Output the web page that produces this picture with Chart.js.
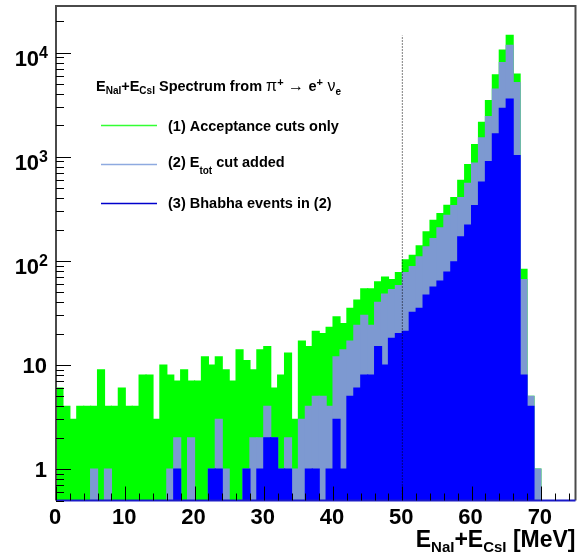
<!DOCTYPE html>
<html>
<head>
<meta charset="utf-8">
<script src="https://cdn.jsdelivr.net/npm/chart.js@4/dist/chart.umd.min.js"></script>
<style>
  html, body { margin: 0; padding: 0; background: #ffffff; }
  canvas { display: block; }
</style>
</head>
<body>
<canvas id="spectrum" width="582" height="552"></canvas>
<script>
// counts per 1 MeV bin, 0..75 MeV
const acceptanceCuts = [
    6, 4, 3, 4, 4, 4, 9, 4, 4, 6,
    4, 4, 8, 8, 3, 10, 8, 7, 9, 7,
    7, 12, 10, 12, 9, 7, 14, 11, 9, 14,
    15, 6, 8, 13, 3, 17, 15, 21, 20, 23,
    29, 25, 35, 42, 54, 54, 63, 70, 66, 77,
    102, 113, 139, 190, 245, 284, 341, 405, 592, 842,
    1306, 2140, 3450, 6120, 10550, 14660, 6210, 83, 5, 1,
    0, 0, 0, 0, 0
];
const etotCut = [
    0, 0, 0, 0, 0, 1, 0, 1, 0, 0,
    0, 0, 0, 0, 0, 0, 1, 2, 0, 2,
    0, 0, 1, 3, 1, 0, 0, 1, 2, 2,
    4, 2, 1, 2, 1, 3, 4, 5, 5, 4,
    12, 14, 17, 24, 30, 24, 40, 48, 53, 58,
    77, 88, 109, 136, 164, 207, 273, 340, 405, 556,
    870, 1515, 2425, 4470, 8020, 11750, 5160, 66, 5, 1,
    0, 0, 0, 0, 0
];
const bhabhaEvents = [
    0, 0, 0, 0, 0, 0, 0, 0, 0, 0,
    0, 0, 0, 0, 0, 0, 0, 1, 0, 0,
    0, 0, 1, 1, 0, 0, 0, 1, 0, 1,
    2, 2, 1, 1, 0, 0, 1, 1, 0, 1,
    3, 1, 5, 6, 8, 8, 15, 10, 18, 20,
    21, 32, 35, 47, 56, 64, 78, 98, 170, 220,
    340, 570, 900, 1656, 2910, 3580, 1026, 8, 4, 0,
    0, 0, 0, 0, 0
];

const xRange = [0, 75];
const yRange = [0.5, 28000];
const cutEnergy = 50;

const xMajorTicks = [0, 10, 20, 30, 40, 50, 60, 70];
const xTickLabels = ['0', '10', '20', '30', '40', '50', '60', '70'];
const yMajorTicks = [1, 10, 100, 1000, 10000];
const yTickLabels = ['1', '10', '10^2', '10^3', '10^4'];

const xMinorTicks = [];
for (let v = 2; v < xRange[1]; v += 2) if (v % 10) xMinorTicks.push(v);
const yMinorTicks = [0.1, 1, 10, 100, 1000, 10000]
    .flatMap(d => [2, 3, 4, 5, 6, 7, 8, 9].map(m => m * d))
    .filter(v => v >= yRange[0] && v <= yRange[1]);

const FONT = "'Liberation Sans', Arial, Helvetica, sans-serif";
const bold = size => `bold ${size}px ${FONT}`;
const plain = size => `${size}px ${FONT}`;

const GREEN = '#00ff00';
const STEEL = '#7d99d1';
const BLUE = '#0000ff';

const toBins = counts => counts.map((c, i) => ({ x: i + 0.5, y: c > 0 ? c : null }));

// draw a run of text pieces (sub/superscripts) one after another
function drawRuns(ctx, runs, x, y, align) {
    let total = 0;
    runs.forEach(r => { ctx.font = r.font; total += ctx.measureText(r.text).width; });
    let cx = align === 'right' ? x - total : x;
    runs.forEach(r => {
        ctx.font = r.font;
        ctx.fillText(r.text, cx, y + (r.dy || 0));
        cx += ctx.measureText(r.text).width;
    });
}

const frameAndText = {
    id: 'frameAndText',
    afterDraw(chart) {
        const { ctx, chartArea: a, scales: { x, y } } = chart;
        ctx.save();

        // frame
        ctx.lineWidth = 2;
        ctx.strokeStyle = '#4a4a4a';
        ctx.beginPath();
        ctx.moveTo(a.left, a.bottom);
        ctx.lineTo(a.left, a.top);
        ctx.lineTo(a.right, a.top);
        ctx.lineTo(a.right, a.bottom);
        ctx.stroke();
        ctx.strokeStyle = '#1a1ac8';
        ctx.beginPath();
        ctx.moveTo(a.left, a.bottom);
        ctx.lineTo(a.right, a.bottom);
        ctx.stroke();

        // inward tick marks
        ctx.lineWidth = 1;
        ctx.strokeStyle = '#000000';
        ctx.beginPath();
        yMajorTicks.forEach(v => {
            const py = Math.round(y.getPixelForValue(v)) + 0.5;
            ctx.moveTo(a.left, py); ctx.lineTo(a.left + 15, py);
        });
        yMinorTicks.forEach(v => {
            const py = Math.round(y.getPixelForValue(v)) + 0.5;
            ctx.moveTo(a.left, py); ctx.lineTo(a.left + 8, py);
        });
        xMajorTicks.forEach(v => {
            const px = Math.round(x.getPixelForValue(v)) + 0.5;
            ctx.moveTo(px, a.bottom); ctx.lineTo(px, a.bottom - 14);
        });
        xMinorTicks.forEach(v => {
            const px = Math.round(x.getPixelForValue(v)) + 0.5;
            ctx.moveTo(px, a.bottom); ctx.lineTo(px, a.bottom - 7);
        });
        ctx.stroke();

        ctx.fillStyle = '#000000';
        ctx.textBaseline = 'alphabetic';

        // y labels
        yMajorTicks.forEach((v, i) => {
            const py = y.getPixelForValue(v);
            const [base, exp] = yTickLabels[i].split('^');
            if (exp) {
                drawRuns(ctx, [
                    { text: base, font: bold(22) },
                    { text: exp, font: bold(16), dy: -8 }
                ], 48, py + 13, 'right');
            } else {
                drawRuns(ctx, [{ text: base, font: bold(22) }], 47, py + 8, 'right');
            }
        });

        // x labels
        ctx.textAlign = 'center';
        ctx.font = bold(22);
        xMajorTicks.forEach((v, i) => {
            ctx.fillText(xTickLabels[i], x.getPixelForValue(v) - 1, a.bottom + 23);
        });
        ctx.textAlign = 'left';

        // x axis title
        drawRuns(ctx, [
            { text: 'E', font: bold(23) },
            { text: 'NaI', font: bold(15), dy: 5 },
            { text: '+E', font: bold(23) },
            { text: 'CsI', font: bold(15), dy: 5 },
            { text: ' [MeV]', font: bold(23) }
        ], a.right, 546.5, 'right');

        // legend title
        drawRuns(ctx, [
            { text: 'E', font: bold(14.5) },
            { text: 'NaI', font: bold(10), dy: 3 },
            { text: '+E', font: bold(14.5) },
            { text: 'CsI', font: bold(10), dy: 3 },
            { text: ' Spectrum from ', font: bold(14.5) },
            { text: 'π', font: plain(16) },
            { text: '+', font: bold(11), dy: -5 },
            { text: ' → ', font: plain(16) },
            { text: 'e', font: bold(14.5) },
            { text: '+', font: bold(11), dy: -5 },
            { text: ' ν', font: plain(16) },
            { text: 'e', font: bold(10), dy: 4 }
        ], 96, 90.5);

        // legend entries
        const entries = [
            { color: '#33ff33', lineY: 125.5, textY: 130.5, runs: [{ text: '(1) Acceptance cuts only', font: bold(14.5) }] },
            { color: '#8eaae0', lineY: 164.5, textY: 166.5, runs: [
                { text: '(2) E', font: bold(14.5) },
                { text: 'tot', font: bold(10), dy: 7 },
                { text: ' cut added', font: bold(14.5) }
            ] },
            { color: '#0000cc', lineY: 203.5, textY: 207.5, runs: [{ text: '(3) Bhabha events in (2)', font: bold(14.5) }] }
        ];
        entries.forEach(e => {
            ctx.strokeStyle = e.color;
            ctx.lineWidth = 1.5;
            ctx.beginPath();
            ctx.moveTo(101, e.lineY);
            ctx.lineTo(157, e.lineY);
            ctx.stroke();
            drawRuns(ctx, e.runs, 168, e.textY);
        });

        ctx.restore();
    }
};

const barStyle = {
    grouped: false,
    categoryPercentage: 1.0,
    barPercentage: 1.0,
    borderWidth: 0,
    inflateAmount: 0.6
};

new Chart(document.getElementById('spectrum'), {
    type: 'bar',
    data: {
        datasets: [
            { ...barStyle, label: '(1) Acceptance cuts only', data: toBins(acceptanceCuts), backgroundColor: GREEN, order: 3 },
            { ...barStyle, label: '(2) Etot cut added', data: toBins(etotCut), backgroundColor: STEEL, order: 2 },
            { ...barStyle, label: '(3) Bhabha events in (2)', data: toBins(bhabhaEvents), backgroundColor: BLUE, order: 1 },
            {
                type: 'line',
                label: 'cut',
                data: [{ x: cutEnergy, y: yRange[0] }, { x: cutEnergy, y: Math.max(...acceptanceCuts) }],
                borderColor: '#000000',
                borderWidth: 1,
                borderDash: [1, 2],
                pointRadius: 0,
                order: 0
            }
        ]
    },
    options: {
        responsive: false,
        animation: false,
        devicePixelRatio: 1,
        layout: { padding: { left: 56, top: 6, right: 6.5, bottom: 51.5 } },
        plugins: {
            legend: { display: false },
            tooltip: { enabled: false }
        },
        scales: {
            x: { type: 'linear', min: xRange[0], max: xRange[1], offset: false, display: false },
            y: { type: 'logarithmic', min: yRange[0], max: yRange[1], display: false }
        }
    },
    plugins: [frameAndText]
});
</script>
</body>
</html>
